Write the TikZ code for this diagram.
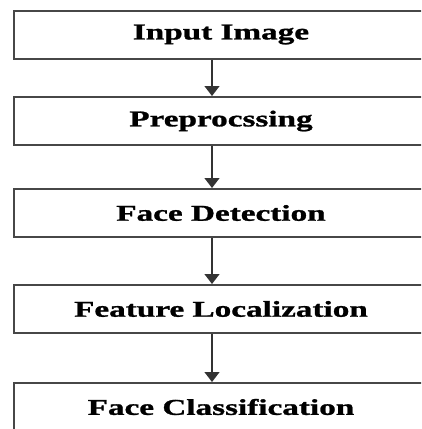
\documentclass[tikz,border=0pt]{standalone}
\usepackage{fontspec}
\setmainfont{Liberation Serif}[FakeStretch=1.47,BoldFeatures={FakeBold=1.2}]
\usetikzlibrary{arrows.meta}
\tikzset{
  stage/.style={draw=black!72,line width=2pt,minimum width=414pt,minimum height=48pt,inner sep=0pt,
    font=\bfseries\fontsize{22.6}{26}\selectfont},
  flow/.style={draw=black!80,line width=1.3pt,-{Triangle[width=15pt,length=10pt]}}
}
\begin{document}
\begin{tikzpicture}[x=1pt,y=1pt]
\useasboundingbox(0,0)rectangle(421,-429);
\clip(0,0)rectangle(421,-429);
\foreach\n/\y/\t in{inp/34.5/Input Image,pre/121/Preprocssing,det/213/Face Detection,loc/309/Feature Localization,cls/407/Face Classification}{\node[stage](\n)at(221,-\y){\t};}
\foreach\a/\b in{inp/pre,pre/det,det/loc,loc/cls}{\draw[flow]([xshift=-9pt]\a.south)--([xshift=-9pt]\b.north);}
\end{tikzpicture}
\end{document}
